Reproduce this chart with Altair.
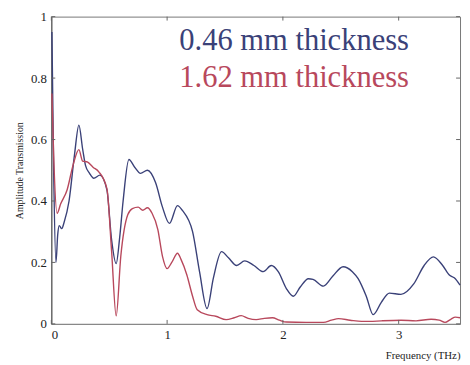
import altair as alt
import pandas as pd

# 0.46 mm thickness (blue)
blue_f = [0.005, 0.02, 0.04, 0.055, 0.068, 0.09, 0.11, 0.153, 0.2, 0.238, 0.27, 0.295, 0.33, 0.366,
          0.42, 0.48, 0.52, 0.56, 0.59, 0.62, 0.67, 0.72, 0.77, 0.83, 0.90, 0.96, 1.02, 1.09, 1.13,
          1.22, 1.28, 1.345, 1.40, 1.47, 1.53, 1.60, 1.67, 1.75, 1.83, 1.90, 1.96, 2.03, 2.09, 2.15,
          2.22, 2.26, 2.35, 2.43, 2.52, 2.60, 2.65, 2.72, 2.78, 2.85, 2.92, 3.02, 3.13, 3.22, 3.30,
          3.38, 3.44, 3.48, 3.53]
blue_a = [0.95, 0.50, 0.20, 0.29, 0.32, 0.31, 0.33, 0.40, 0.55, 0.647, 0.57, 0.516, 0.49, 0.474,
          0.484, 0.436, 0.275, 0.196, 0.28, 0.40, 0.535, 0.51, 0.49, 0.50, 0.46, 0.38, 0.327, 0.385, 0.37,
          0.30, 0.17, 0.05, 0.15, 0.235, 0.215, 0.19, 0.205, 0.19, 0.17, 0.19, 0.17, 0.115, 0.09, 0.12,
          0.147, 0.145, 0.123, 0.155, 0.186, 0.17, 0.147, 0.09, 0.03, 0.07, 0.10, 0.096, 0.13, 0.19, 0.218,
          0.19, 0.158, 0.15, 0.126]

# 1.62 mm thickness (red)
red_f = [0.005, 0.02, 0.05, 0.08, 0.136, 0.19, 0.238, 0.27, 0.31, 0.36, 0.41, 0.48, 0.52, 0.56, 0.60,
         0.66, 0.70, 0.75, 0.79, 0.83, 0.87, 0.92, 0.96, 1.0, 1.04, 1.09, 1.12, 1.17, 1.22, 1.26, 1.345,
         1.42, 1.51, 1.58, 1.64, 1.70, 1.77, 1.84, 1.91, 1.97, 2.03, 2.2, 2.35, 2.42, 2.48, 2.58, 2.68,
         2.75, 2.85, 3.02, 3.15, 3.28, 3.35, 3.40, 3.45, 3.49, 3.53]
red_a = [0.75, 0.55, 0.36, 0.39, 0.436, 0.52, 0.567, 0.53, 0.527, 0.51, 0.495, 0.44, 0.24, 0.026, 0.22,
         0.355, 0.375, 0.38, 0.37, 0.378, 0.36, 0.307, 0.22, 0.18, 0.20, 0.23, 0.21, 0.16, 0.09, 0.046, 0.03,
         0.025, 0.014, 0.02, 0.027, 0.018, 0.014, 0.018, 0.02, 0.012, 0.006, 0.005, 0.005, 0.012, 0.017, 0.012,
         0.008, 0.008, 0.01, 0.012, 0.01, 0.015, 0.012, 0.005, 0.015, 0.022, 0.02]

labels = ["0.46 mm thickness", "1.62 mm thickness"]
label_f = [1.105, 1.105]
label_a = [0.891, 0.772]
colors = ["#3a4178", "#b8485c"]
text_colors = ["#3d4a86", "#c4485c"]

x_ticks = [0, 1, 2, 3]
y_ticks = [0, 0.2, 0.4, 0.6, 0.8, 1]

df = pd.concat([
    pd.DataFrame({"f": blue_f, "a": blue_a, "s": labels[0]}),
    pd.DataFrame({"f": red_f, "a": red_a, "s": labels[1]}),
])
lab = pd.DataFrame({"f": label_f, "a": label_a, "s": labels})

xs = alt.Scale(domain=[0, 3.53], nice=False, zero=False)
ys = alt.Scale(domain=[0, 1], nice=False)
font = "Liberation Serif, Times New Roman, DejaVu Serif, serif"

x_enc = alt.X("f:Q", scale=xs, axis=alt.Axis(
    values=x_ticks, format="d", title="Frequency (THz)", titleAnchor="end", titleFont=font,
    titleFontSize=11, titleFontWeight="normal", titleColor="#222", titlePadding=8, labelFont=font,
    labelFontSize=13, labelColor="#222", ticks=False, labelPadding=5, domainColor="#888", grid=False))
y_enc = alt.Y("a:Q", scale=ys, axis=alt.Axis(
    values=y_ticks, title="Amplitude Transmission", titleFont=font, titleFontSize=10,
    titleFontWeight="normal", titleColor="#222", titlePadding=6, labelFont=font, labelFontSize=13,
    labelColor="#222", ticks=False, labelPadding=5, domainColor="#555", grid=False,
    labelExpr="datum.value == 0 ? '0' : datum.value == 1 ? '1' : format(datum.value, '.1f')"))

lines = alt.Chart(df).mark_line(strokeWidth=1.4, interpolate="monotone").encode(
    x=x_enc, y=y_enc,
    color=alt.Color("s:N", scale=alt.Scale(domain=labels, range=colors), legend=None),
)

texts = alt.Chart(lab).mark_text(font=font, fontSize=31, align="left", baseline="alphabetic").encode(
    x=alt.X("f:Q", scale=xs), y=alt.Y("a:Q", scale=ys),
    text="s:N",
    color=alt.Color("s:N", scale=alt.Scale(domain=labels, range=text_colors), legend=None),
)

# small inward tick marks on bottom and top
xt = pd.DataFrame({"f": x_ticks})
bt = alt.Chart(xt).mark_rule(color="#666").encode(
    x=alt.X("f:Q", scale=xs), y=alt.value(312), y2=alt.value(308))
tt = alt.Chart(xt).mark_rule(color="#666").encode(
    x=alt.X("f:Q", scale=xs), y=alt.value(0), y2=alt.value(4))
yt = pd.DataFrame({"a": y_ticks})
lt = alt.Chart(yt).mark_rule(color="#666").encode(
    y=alt.Y("a:Q", scale=ys), x=alt.value(0), x2=alt.value(4))
rt = alt.Chart(yt).mark_rule(color="#666").encode(
    y=alt.Y("a:Q", scale=ys), x=alt.value(411), x2=alt.value(415))

chart = alt.layer(lines, texts, bt, tt, lt, rt).properties(
    width=415, height=312,
    autosize=alt.AutoSizeParams(type="none"),
    padding={"left": 44, "top": 6, "right": 2, "bottom": 40},
    background="white",
).configure_view(stroke="#777", strokeWidth=1)

chart.save("out.html", embed_options={"renderer": "svg", "actions": False})
